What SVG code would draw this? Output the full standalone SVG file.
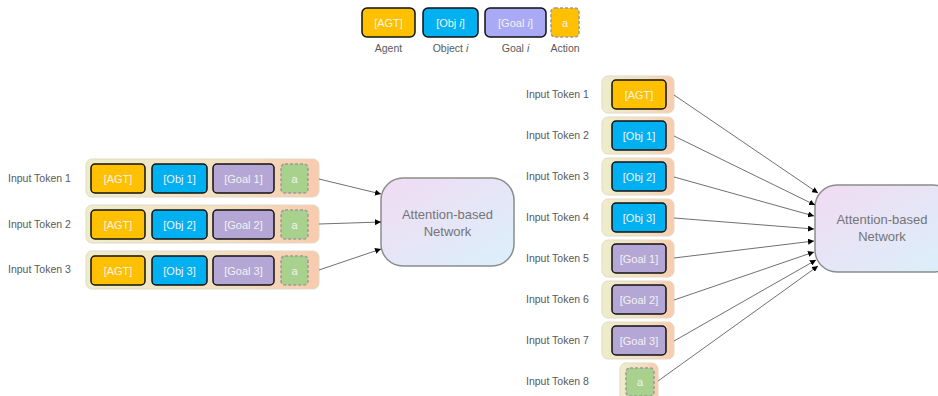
<svg xmlns="http://www.w3.org/2000/svg" width="938" height="396" viewBox="0 0 938 396">
  <defs>
    <linearGradient id="rowGrad" x1="0" y1="0" x2="1" y2="0">
      <stop offset="0" stop-color="#EDEDCB"/>
      <stop offset="0.6" stop-color="#F2DFC0"/>
      <stop offset="1" stop-color="#F8CBAD"/>
    </linearGradient>
    <linearGradient id="netGrad" x1="0" y1="0" x2="1" y2="1">
      <stop offset="0" stop-color="#F1DBF3"/>
      <stop offset="1" stop-color="#DAF0FA"/>
    </linearGradient>
    <marker id="arrow" viewBox="0 0 10 10" refX="10" refY="5" markerWidth="6" markerHeight="6" markerUnits="userSpaceOnUse" orient="auto">
      <path d="M0,0 L10,5 L0,10 z" fill="#000"/>
    </marker>
  </defs>
  <style>
    text { font-family: "Liberation Sans", Arial, sans-serif; }
    .lbl { font-size: 10.5px; fill: #595959; }
    .cap { font-size: 10.5px; fill: #595959; text-anchor: middle; }
    .in { font-size: 11px; fill: #F2F2F2; text-anchor: middle; dominant-baseline: central; }
    .net-t { font-size: 13px; fill: #757575; text-anchor: middle; }
    .row { fill: url(#rowGrad); stroke: #E3D9C6; stroke-width: 1; }
    .agt { fill: #FFC000; stroke: #111; stroke-width: 1.5; }
    .obj { fill: #00B0F0; stroke: #111; stroke-width: 1.5; }
    .goal { fill: #B4A7D6; stroke: #111; stroke-width: 1.5; }
    .goal-l { fill: #A9A9F5; stroke: #111; stroke-width: 1.5; }
    .act { fill: #A9D18E; stroke: #9A9A9A; stroke-width: 1.5; stroke-dasharray: 3 2; }
    .act-l { fill: #FFC000; stroke: #9A9A9A; stroke-width: 1.5; stroke-dasharray: 3 2; }
    .net { fill: url(#netGrad); stroke: #8C8C8C; stroke-width: 1.5; }
    .edge { stroke: #404040; stroke-width: 0.75; fill: none; marker-end: url(#arrow); }
  </style>

  <!-- legend -->
  <g id="legend">
    <rect class="agt" x="362" y="8" width="53" height="29" rx="5"/>
    <text class="in" x="388.5" y="22.5">[AGT]</text>
    <text class="cap" x="388.5" y="52">Agent</text>
    <rect class="obj" x="423" y="8" width="55" height="29" rx="5"/>
    <text class="in" x="450.5" y="22.5">[Obj <tspan font-style="italic">i</tspan>]</text>
    <text class="cap" x="450.5" y="52">Object <tspan font-style="italic">i</tspan></text>
    <rect class="goal-l" x="485" y="8" width="61" height="29" rx="5"/>
    <text class="in" x="515.5" y="22.5">[Goal <tspan font-style="italic">i</tspan>]</text>
    <text class="cap" x="515.5" y="52">Goal <tspan font-style="italic">i</tspan></text>
    <rect class="act-l" x="551" y="8" width="28" height="29" rx="4"/>
    <text class="in" x="565" y="22.5">a</text>
    <text class="cap" x="565" y="52">Action</text>
  </g>

  <!-- left: one token per time step -->
  <g id="left-token-1">
    <text class="lbl" x="8" y="182">Input Token 1</text>
    <rect class="row" x="86" y="159" width="233" height="38" rx="6"/>
    <rect class="agt" x="91" y="164" width="54" height="29" rx="4"/>
    <text class="in" x="118" y="178.5">[AGT]</text>
    <rect class="obj" x="152" y="164" width="55" height="29" rx="4"/>
    <text class="in" x="179.5" y="178.5">[Obj 1]</text>
    <rect class="goal" x="213" y="164" width="61" height="29" rx="4"/>
    <text class="in" x="243.5" y="178.5">[Goal 1]</text>
    <rect class="act" x="281" y="164" width="27" height="29" rx="4"/>
    <text class="in" x="294.5" y="178.5">a</text>
  </g>
  <g id="left-token-2">
    <text class="lbl" x="8" y="228">Input Token 2</text>
    <rect class="row" x="86" y="205" width="233" height="38" rx="6"/>
    <rect class="agt" x="91" y="210" width="54" height="29" rx="4"/>
    <text class="in" x="118" y="224.5">[AGT]</text>
    <rect class="obj" x="152" y="210" width="55" height="29" rx="4"/>
    <text class="in" x="179.5" y="224.5">[Obj 2]</text>
    <rect class="goal" x="213" y="210" width="61" height="29" rx="4"/>
    <text class="in" x="243.5" y="224.5">[Goal 2]</text>
    <rect class="act" x="281" y="210" width="27" height="29" rx="4"/>
    <text class="in" x="294.5" y="224.5">a</text>
  </g>
  <g id="left-token-3">
    <text class="lbl" x="8" y="273">Input Token 3</text>
    <rect class="row" x="86" y="251" width="233" height="38" rx="6"/>
    <rect class="agt" x="91" y="256" width="54" height="29" rx="4"/>
    <text class="in" x="118" y="270.5">[AGT]</text>
    <rect class="obj" x="152" y="256" width="55" height="29" rx="4"/>
    <text class="in" x="179.5" y="270.5">[Obj 3]</text>
    <rect class="goal" x="213" y="256" width="61" height="29" rx="4"/>
    <text class="in" x="243.5" y="270.5">[Goal 3]</text>
    <rect class="act" x="281" y="256" width="27" height="29" rx="4"/>
    <text class="in" x="294.5" y="270.5">a</text>
  </g>
  <g id="left-network">
    <rect class="net" x="381" y="178" width="133" height="88" rx="22"/>
    <text class="net-t" x="447.5" y="219">Attention-based</text>
    <text class="net-t" x="447.5" y="236">Network</text>
  </g>

  <!-- right: one token per entity -->
  <g id="right-token-1">
    <text class="lbl" x="526" y="98">Input Token 1</text>
    <rect class="row" x="602" y="76" width="72" height="37" rx="6"/>
    <rect class="agt" x="612" y="80" width="54" height="29" rx="4"/>
    <text class="in" x="639" y="94.5">[AGT]</text>
  </g>
  <g id="right-token-2">
    <text class="lbl" x="526" y="139">Input Token 2</text>
    <rect class="row" x="602" y="117" width="72" height="37" rx="6"/>
    <rect class="obj" x="612" y="121" width="54" height="29" rx="4"/>
    <text class="in" x="639" y="135.5">[Obj 1]</text>
  </g>
  <g id="right-token-3">
    <text class="lbl" x="526" y="180">Input Token 3</text>
    <rect class="row" x="602" y="158" width="72" height="37" rx="6"/>
    <rect class="obj" x="612" y="162" width="54" height="29" rx="4"/>
    <text class="in" x="639" y="176.5">[Obj 2]</text>
  </g>
  <g id="right-token-4">
    <text class="lbl" x="526" y="221">Input Token 4</text>
    <rect class="row" x="602" y="199" width="72" height="37" rx="6"/>
    <rect class="obj" x="612" y="203" width="54" height="29" rx="4"/>
    <text class="in" x="639" y="217.5">[Obj 3]</text>
  </g>
  <g id="right-token-5">
    <text class="lbl" x="526" y="262">Input Token 5</text>
    <rect class="row" x="602" y="240" width="72" height="37" rx="6"/>
    <rect class="goal" x="612" y="244" width="54" height="29" rx="4"/>
    <text class="in" x="639" y="258.5">[Goal 1]</text>
  </g>
  <g id="right-token-6">
    <text class="lbl" x="526" y="303">Input Token 6</text>
    <rect class="row" x="602" y="281" width="72" height="37" rx="6"/>
    <rect class="goal" x="612" y="285" width="54" height="29" rx="4"/>
    <text class="in" x="639" y="299.5">[Goal 2]</text>
  </g>
  <g id="right-token-7">
    <text class="lbl" x="526" y="344">Input Token 7</text>
    <rect class="row" x="602" y="322" width="72" height="37" rx="6"/>
    <rect class="goal" x="612" y="326" width="54" height="29" rx="4"/>
    <text class="in" x="639" y="340.5">[Goal 3]</text>
  </g>
  <g id="right-token-8">
    <text class="lbl" x="526" y="385">Input Token 8</text>
    <rect class="row" x="620" y="363" width="38" height="40" rx="6"/>
    <rect class="act" x="626" y="368" width="28" height="28" rx="4"/>
    <text class="in" x="640" y="382">a</text>
  </g>
  <g id="right-network">
    <rect class="net" x="815" y="185" width="140" height="87" rx="22"/>
    <text class="net-t" x="882" y="224">Attention-based</text>
    <text class="net-t" x="882" y="241">Network</text>
  </g>

  <!-- connectors -->
  <g id="connectors">
    <line class="edge" x1="319" y1="179" x2="381" y2="194"/>
    <line class="edge" x1="319" y1="224" x2="381" y2="222"/>
    <line class="edge" x1="319" y1="270" x2="381" y2="249"/>

    <line class="edge" x1="674" y1="95" x2="818" y2="193"/>
    <line class="edge" x1="674" y1="136" x2="815" y2="205"/>
    <line class="edge" x1="674" y1="177" x2="814" y2="216"/>
    <line class="edge" x1="674" y1="218" x2="814" y2="229"/>
    <line class="edge" x1="674" y1="258" x2="814" y2="241"/>
    <line class="edge" x1="674" y1="300" x2="814" y2="252"/>
    <line class="edge" x1="674" y1="341" x2="816" y2="260"/>
    <line class="edge" x1="658" y1="381" x2="818" y2="266"/>
  </g>
</svg>
